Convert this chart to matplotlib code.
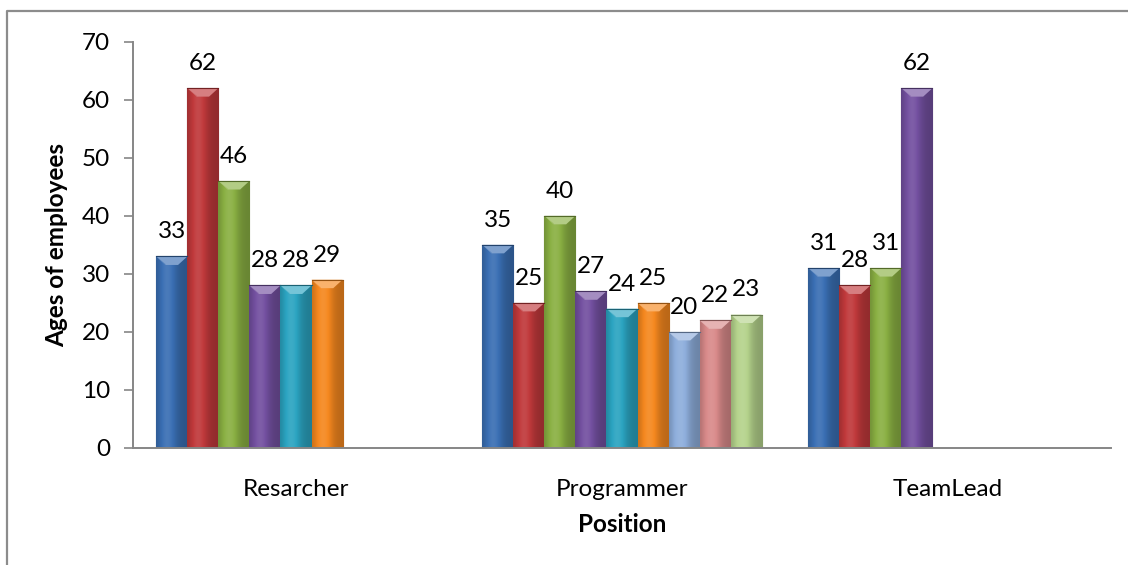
import numpy as np
import matplotlib
matplotlib.use("Agg")
import matplotlib.pyplot as plt
from matplotlib.colors import to_rgb
from matplotlib.patches import Polygon
from matplotlib.lines import Line2D

# Data
positions = ["Resarcher", "Programmer", "TeamLead"]
researcher_ages = [33, 62, 46, 28, 28, 29]
programmer_ages = [35, 25, 40, 27, 24, 25, 20, 22, 23]
teamlead_ages = [31, 28, 31, 62]
ages = [researcher_ages, programmer_ages, teamlead_ages]

series_colors = ["#3a6fb4", "#c0393b", "#8ab043", "#7350a0", "#2ba4c1",
                 "#f5881f", "#8eaedc", "#d98a8a", "#b5d38c"]
n_slots = 9
bar_w = 1.0 / 10.5  # Excel gap width 150%
fs = 17.5

plt.rcParams["font.family"] = ["Lato", "DejaVu Sans"]

W, H, DPI = 1128, 565, 100
fig = plt.figure(figsize=(W / DPI, H / DPI), dpi=DPI)
ax = fig.add_axes([133 / W, 1 - 448 / H, (1111 - 133) / W, (448 - 41.7) / H])
ax.set_xlim(-0.5, 2.5)
ax.set_ylim(0, 70)

px_per_unit = (448 - 41.7) / 70.0
bevel = 8.5 / px_per_unit


def shade(c, f):
    c = np.array(to_rgb(c))
    if f >= 1:
        return np.clip(c + (1 - c) * (f - 1), 0, 1)
    return np.clip(c * f, 0, 1)


# horizontal light profile across a bar
xs = np.linspace(0, 1, 60)
profile = 0.76 + 0.32 * np.exp(-((xs - 0.35) / 0.3) ** 2)

for ci, vals in enumerate(ages):
    for si, v in enumerate(vals):
        col = series_colors[si]
        x = ci + (si - (n_slots - 1) / 2) * bar_w
        bars = ax.bar(x, v, width=bar_w, color=col,
                      edgecolor=shade(col, 0.55), linewidth=0.8, zorder=2)
        patch = bars[0]
        x0, x1 = x - bar_w / 2, x + bar_w / 2
        img = np.empty((1, len(xs), 3))
        for k, f in enumerate(profile):
            img[0, k] = shade(col, f)
        im = ax.imshow(img, extent=(x0, x1, 0, v), aspect="auto",
                       interpolation="bilinear", zorder=2.5)
        im.set_clip_path(patch)
        # top bevel
        ax.add_patch(Polygon([(x0, v), (x1, v), (x1 - bar_w * 0.3, v - bevel),
                              (x0 + bar_w * 0.3, v - bevel)],
                             closed=True, facecolor=shade(col, 1.35),
                             edgecolor="none", zorder=3))
        ax.add_patch(Polygon([(x0, v), (x0 + bar_w * 0.3, v - bevel),
                              (x0 + bar_w * 0.3, v - bevel * 0.9)],
                             closed=True, facecolor=shade(col, 1.15),
                             edgecolor="none", zorder=3))
        ax.plot([x0, x1], [v, v], color=shade(col, 0.6), lw=0.8, zorder=3.5)
        ax.annotate(str(v), (x, v), xytext=(0, 13), textcoords="offset points",
                    ha="center", va="baseline", fontsize=fs, color="black")

ax.set_xlim(-0.5, 2.5)
ax.set_ylim(0, 70)

ax.set_yticks(np.arange(0, 71, 10))
ax.set_xticks(range(len(positions)))
ax.set_xticklabels(positions)
ax.tick_params(axis="y", direction="out", length=6.5, width=1.2,
               color="#868686", labelsize=fs, pad=10)
ax.tick_params(axis="x", length=0, labelsize=fs, pad=22)

for s in ["top", "right"]:
    ax.spines[s].set_visible(False)
for s in ["left", "bottom"]:
    ax.spines[s].set_color("#868686")
    ax.spines[s].set_linewidth(1.4)

ax.set_ylabel("Ages of employees", fontsize=fs, fontweight="bold", labelpad=10)
ax.set_xlabel("Position", fontsize=fs, fontweight="bold", labelpad=10)

# outer chart border
fig.add_artist(Line2D([7 / W, 7 / W, 1.0], [0.0, 1 - 11 / H, 1 - 11 / H],
                      transform=fig.transFigure, color="#8c8c8c", lw=1.6))

fig.savefig("out.png", dpi=DPI)
